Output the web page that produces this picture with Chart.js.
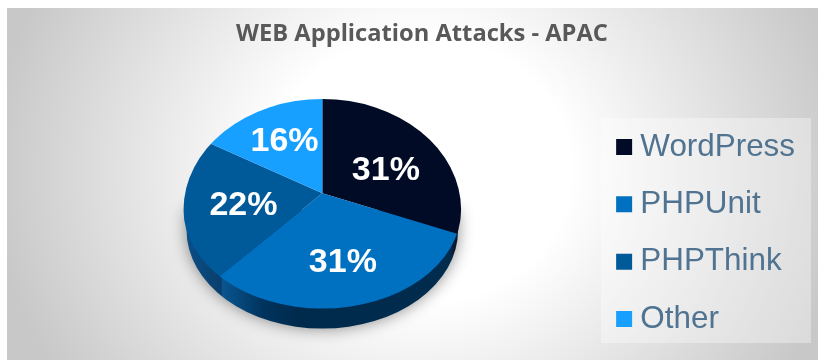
<!DOCTYPE html>
<html>
<head>
<meta charset="utf-8">
<style>
    html, body { margin: 0; padding: 0; background: #fff; }
    #wrap { position: relative; width: 818px; height: 360px; overflow: hidden; }
    #panel-bg { position: absolute; left: 7px; top: 8px; right: 0; bottom: 0;
        background: radial-gradient(ellipse 430px 380px at 413px 162px, #ffffff 35%, #c8c8c8 100%); }
    #legend-bg { position: absolute; left: 601px; top: 118px; width: 210px; height: 225px;
        background: rgba(255, 255, 255, 0.35); }
    canvas { position: absolute; left: 0; top: 0; }
</style>
</head>
<body>
<div id="wrap">
    <div id="panel-bg"></div>
    <div id="legend-bg"></div>
    <canvas id="attackChart" width="818" height="360"></canvas>
</div>
<script src="https://cdn.jsdelivr.net/npm/chart.js@4"></script>
<script>
const chartTitle = 'WEB Application Attacks - APAC';
const categories = ['WordPress', 'PHPUnit', 'PHPThink', 'Other'];
const shares = [31, 31, 22, 16];
const sliceColors = ['#020b26', '#0070c0', '#005a9a', '#17a0ff'];

// --- look of the tilted pie ---
const tiltTop = 0.70;
const tiltBottom = 0.76;
const growFace = 1.3;       // arcs are drawn bigger, then cut by the outline
const outlineDrop = 17;     // widest line of the outline sits below the pie centre
const outlineTop = 0.80;
const outlineBottom = 0.71;
const pieDepth = 20;
const labelReach = 0.58;
const labelNudge = [[-3, 9], [3, 10], [1, 5], [1, -2]];

const pie3d = {
    id: 'pie3d',
    afterLayout(chart) {
        // legend sits lower than the pie, title a bit left of the full width centre
        chart.legend.top += 57;
        chart.legend.bottom += 57;
        chart.titleBlock.left -= 4;
        chart.titleBlock.right -= 4;
    },
    beforeDatasetsDraw(chart) {
        const ctx = chart.ctx;
        const arcs = chart.getDatasetMeta(0).data;
        const cx = arcs[0].x;
        const cy = Math.round(arcs[0].y);
        const r = arcs[0].outerRadius;
        const widest = cy + outlineDrop;

        // side wall
        const wallX = r - 3;
        const side = ctx.createLinearGradient(cx - r, 0, cx + r, 0);
        side.addColorStop(0, '#0a4f88');
        side.addColorStop(0.136, '#0a3f6c');
        side.addColorStop(0.14, '#0a5590');
        side.addColorStop(0.29, '#00335c');
        side.addColorStop(0.42, '#002a4c');
        side.addColorStop(0.96, '#012c4e');
        side.addColorStop(0.975, '#0a1a2e');
        side.addColorStop(1, '#0a1a2e');
        ctx.save();
        ctx.shadowColor = 'rgba(0,0,0,0.45)';
        ctx.shadowBlur = 16;
        ctx.fillStyle = side;
        ctx.beginPath();
        ctx.moveTo(cx - wallX, widest);
        ctx.lineTo(cx - wallX, widest + pieDepth);
        ctx.ellipse(cx, widest + pieDepth, wallX, r * outlineBottom, 0, Math.PI, 0, true);
        ctx.lineTo(cx + wallX, widest);
        ctx.closePath();
        ctx.fill();
        ctx.restore();

        // top face, cut by the outline, upper and lower half flattened on their own
        [[0, cy, tiltTop], [cy, chart.height - cy, tiltBottom]].forEach(([y, h, tilt]) => {
            ctx.save();
            ctx.beginPath();
            ctx.ellipse(cx, widest, r, r * outlineTop, 0, Math.PI, 0);
            ctx.ellipse(cx, widest, r, r * outlineBottom, 0, 0, Math.PI);
            ctx.closePath();
            ctx.clip();
            ctx.beginPath();
            ctx.rect(0, y, chart.width, h);
            ctx.clip();
            ctx.translate(cx, cy);
            ctx.scale(growFace, growFace * tilt);
            ctx.translate(-cx, -cy);
            arcs.forEach(arc => arc.draw(ctx));
            ctx.restore();
        });

        // value labels
        ctx.save();
        ctx.fillStyle = '#ffffff';
        ctx.font = 'bold 34px "Liberation Sans"';
        ctx.textAlign = 'center';
        ctx.textBaseline = 'middle';
        arcs.forEach((arc, i) => {
            const mid = (arc.startAngle + arc.endAngle) / 2;
            const dy = Math.sin(mid) * r * labelReach;
            const x = cx + Math.cos(mid) * r * labelReach;
            const y = cy + dy * (dy < 0 ? tiltTop : tiltBottom);
            ctx.fillText(shares[i] + '%', x + labelNudge[i][0], y + labelNudge[i][1]);
        });
        ctx.restore();
        return false;
    }
};

new Chart(document.getElementById('attackChart'), {
    type: 'pie',
    data: {
        labels: categories,
        datasets: [{ data: shares, backgroundColor: sliceColors, borderWidth: 0 }]
    },
    options: {
        responsive: false,
        animation: false,
        layout: { padding: { left: 47, right: 13, top: 20, bottom: 28 } },
        plugins: {
            tooltip: { enabled: false },
            title: {
                display: true,
                text: chartTitle,
                color: '#595959',
                font: { family: '"Open Sans"', size: 23.7, weight: '700' },
                padding: { top: 0, bottom: 6 }
            },
            legend: {
                position: 'right',
                labels: {
                    usePointStyle: true,
                    pointStyle: 'rect',
                    boxWidth: 1,
                    boxHeight: 16,
                    padding: 26,
                    color: '#4f7390',
                    font: { family: '"Liberation Sans"', size: 31.4 }
                }
            }
        }
    },
    plugins: [pie3d]
});
</script>
</body>
</html>
